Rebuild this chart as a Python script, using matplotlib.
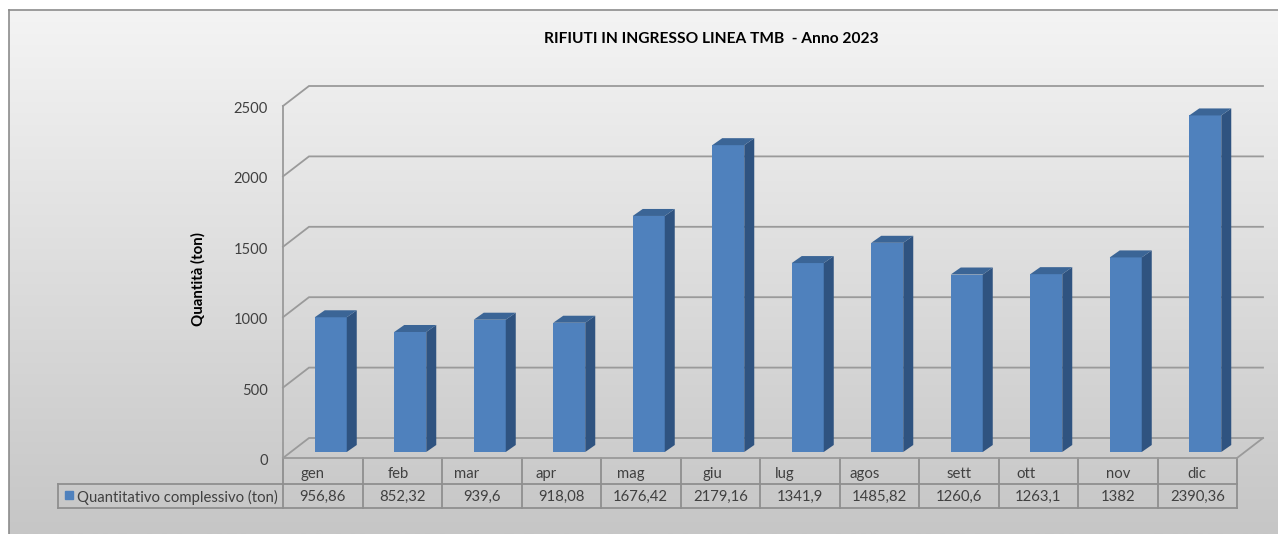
import matplotlib
matplotlib.use('Agg')
import matplotlib.pyplot as plt
import numpy as np
from matplotlib.patches import Polygon, Rectangle

plt.rcParams['font.family'] = ['Lato', 'DejaVu Sans']

mesi = ['gen', 'feb', 'mar', 'apr', 'mag', 'giu', 'lug', 'agos', 'sett', 'ott', 'nov', 'dic']
quantita = [956.86, 852.32, 939.6, 918.08, 1676.42, 2179.16, 1341.9, 1485.82, 1260.6, 1263.1, 1382, 2390.36]
quantita_txt = ['956,86', '852,32', '939,6', '918,08', '1676,42', '2179,16', '1341,9', '1485,82',
                '1260,6', '1263,1', '1382', '2390,36']
tick_vals = [0, 500, 1000, 1500, 2000, 2500]
titolo = 'RIFIUTI IN INGRESSO LINEA TMB  - Anno 2023'
serie = 'Quantitativo complessivo (ton)'
label_shift = [-10, -4, -15, -15, -10, -8, -15, -15, 0, -12, 0, 0]

W, H = 1278, 534
fig = plt.figure(figsize=(W / 100, H / 100), dpi=100, facecolor='white')

# background panel, pixel coords
bg = fig.add_axes([0, 0, 1, 1])
bg.set_xlim(0, W)
bg.set_ylim(H, 0)
bg.axis('off')
grad = np.linspace(0, 1, 256).reshape(-1, 1)
bg.imshow(grad, extent=[9, W, H, 10], cmap=matplotlib.colors.LinearSegmentedColormap.from_list('g', ['#f4f4f4', '#c6c6c6']),
          aspect='auto', zorder=0)
bg.set_xlim(0, W)
bg.set_ylim(H, 0)
bg.plot([9, 9], [H, 10], color='#8c8c8c', lw=1.2, zorder=1)
bg.plot([9, W], [10, 10], color='#8c8c8c', lw=1.2, zorder=1)

# front plane of the fake 3D box
x0, x1, y0, y1 = 283, 1237, 458, 106
ax = fig.add_axes([x0 / W, 1 - y0 / H, (x1 - x0) / W, (y0 - y1) / H])
ax.set_xlim(0, 12)
ax.set_ylim(0, 2500)
ax.patch.set_alpha(0)
ax.axis('off')

px_x = 12 / (x1 - x0)
px_y = 2500 / (y0 - y1)
dx, dy = 26 * px_x, 20 * px_y  # depth of the box
grid_c = '#9a9a9a'

for v in tick_vals:
    ax.plot([0, dx, 12 + dx], [v, v + dy, v + dy], color=grid_c, lw=1.3, clip_on=False, zorder=1,
            solid_joinstyle='miter')
ax.plot([0, 0], [0, 2500], color=grid_c, lw=1.3, clip_on=False, zorder=1)
ax.plot([12, 12 + dx], [0, dy], color=grid_c, lw=1.3, clip_on=False, zorder=1)
ax.plot([0, 12], [0, 0], color=grid_c, lw=1.3, clip_on=False, zorder=1)

# bars
bw = 32 * px_x
sx, sy = 8 * px_x, 6 * px_y      # bar offset from the front plane
ox, oy = 10 * px_x, 7 * px_y     # bar depth
pos = np.arange(12) + 0.5 + sx
ax.bar(pos, quantita, width=bw, bottom=sy, color='#4f81bd', zorder=3, clip_on=False)
for p, q in zip(pos, quantita):
    r = p + bw / 2
    l = p - bw / 2
    top = q + sy
    ax.add_patch(Polygon([(r, sy), (r + ox, sy + oy), (r + ox, top + oy), (r, top)],
                         facecolor='#2f5380', edgecolor='none', zorder=3, clip_on=False))
    ax.add_patch(Polygon([(l, top), (l + ox, top + oy), (r + ox, top + oy), (r, top)],
                         facecolor='#3b6596', edgecolor='none', zorder=3, clip_on=False))

# y tick labels and axis title
for v in tick_vals:
    ax.annotate(str(v), (0, v), xytext=(-15, -3), textcoords='offset pixels', ha='right', va='center',
                fontsize=10.6, color='#404040', annotation_clip=False)
bg.text(198, 279, 'Quantità (ton)', rotation=90, ha='center', va='center', fontsize=10.8, fontweight='bold', color='black')
bg.text(711, 39, titolo, ha='center', va='center', fontsize=11.15, fontweight='bold', color='black')

# data table under the chart
t_c = '#8f8f8f'
y_a, y_b, y_c = 458, 484, 508
edges = np.linspace(x0, x1, 13)
bg.plot([58, x1], [y_b, y_b], color=t_c, lw=1.3, zorder=2)
bg.plot([58, x1], [y_c, y_c], color=t_c, lw=1.3, zorder=2)
bg.plot([58, 58], [y_b, y_c], color=t_c, lw=1.3, zorder=2)
for e in edges:
    bg.plot([e, e], [y_a, y_c], color=t_c, lw=1.3, zorder=2)
bg.add_patch(Rectangle((65, 491), 8, 8, color='#4f81bd', zorder=3))
bg.text(77, 497, serie, ha='left', va='center', fontsize=10.75, color='#404040')
for i in range(12):
    c = (edges[i] + edges[i + 1]) / 2
    bg.text(c + label_shift[i], 474, mesi[i], ha='center', va='center', fontsize=10.75, color='#404040')
    bg.text(c, 497, quantita_txt[i], ha='center', va='center', fontsize=10.75, color='#404040')

fig.savefig('out.png', dpi=100)
